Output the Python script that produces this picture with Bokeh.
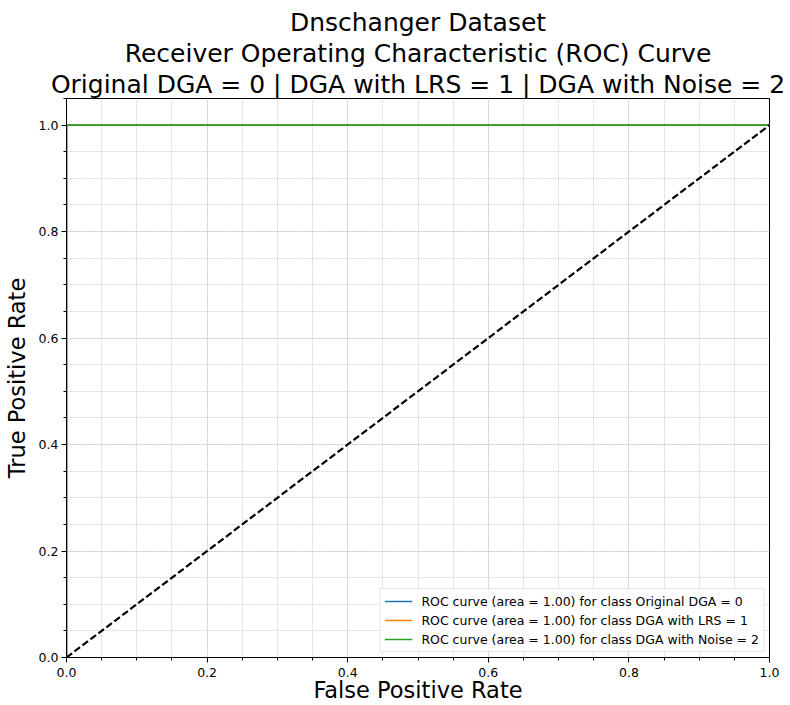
from bokeh.plotting import figure
from bokeh.models import (Title, FixedTicker, PrintfTickFormatter, Range1d,
                          Legend, LegendItem)
from bokeh.embed import file_html
from bokeh.resources import INLINE

# ---- data ----
title_lines = ["Dnschanger Dataset",
               "Receiver Operating Characteristic (ROC) Curve",
               "Original DGA = 0 | DGA with LRS = 1 | DGA with Noise = 2"]
class_names = ["Original DGA = 0", "DGA with LRS = 1", "DGA with Noise = 2"]
roc_auc = [1.00, 1.00, 1.00]
fpr_class0 = [0.0, 0.0, 1.0]
tpr_class0 = [0.0, 1.0, 1.0]
fpr_class1 = [0.0, 0.0, 1.0]
tpr_class1 = [0.0, 1.0, 1.0]
fpr_class2 = [0.0, 0.0, 1.0]
tpr_class2 = [0.0, 1.0, 1.0]
diag_x = [0.0, 1.0]
diag_y = [0.0, 1.0]
major_ticks = [0.0, 0.2, 0.4, 0.6, 0.8, 1.0]
minor_ticks_x = [round(i * 0.05, 2) for i in range(0, 21)]
minor_ticks_y = [round(i * 0.05, 2) for i in range(0, 22)]
colors = ["#1f77b4", "#ff7f0e", "#2ca02c"]

FONT = "DejaVu Sans"

p = figure(width=790, height=705, output_backend="svg", toolbar_location=None,
           x_range=Range1d(0, 1.0), y_range=Range1d(0, 1.05),
           min_border_left=65, min_border_right=21, min_border_bottom=47,
           min_border_top=98)
p.title = None

for line in reversed(title_lines):
    p.add_layout(Title(text=line, align="center", text_font=FONT,
                       text_font_size="25px", text_font_style="normal",
                       text_color="black", standoff=0), "above")

p.background_fill_color = "white"
p.border_fill_color = "white"
p.outline_line_color = "black"
p.outline_line_width = 1
p.outline_line_alpha = 1

for ax, minor in ((p.xaxis[0], minor_ticks_x), (p.yaxis[0], minor_ticks_y)):
    ax.ticker = FixedTicker(ticks=major_ticks, minor_ticks=minor)
    ax.formatter = PrintfTickFormatter(format="%.1f")
    ax.major_label_text_font = FONT
    ax.major_label_text_font_size = "12.5px"
    ax.major_label_text_color = "black"
    ax.axis_label_text_font = FONT
    ax.axis_label_text_font_size = "22.5px"
    ax.axis_label_text_font_style = "normal"
    ax.axis_label_text_color = "black"
    ax.axis_line_color = "black"
    ax.major_tick_line_color = "black"
    ax.minor_tick_line_color = "black"
    ax.major_tick_out = 5
    ax.major_tick_in = 0
    ax.minor_tick_out = 3
    ax.minor_tick_in = 0
    ax.major_label_standoff = 3

p.xaxis.major_label_standoff = 5
p.xaxis.axis_label = "False Positive Rate"
p.yaxis.axis_label = "True Positive Rate"
p.xaxis.axis_label_standoff = -3
p.yaxis.axis_label_standoff = 6

for g in (p.xgrid[0], p.ygrid[0]):
    g.grid_line_color = "#c8c8c8"
    g.grid_line_dash = "2 1"
    g.grid_line_width = 0.7
    g.minor_grid_line_color = "#c8c8c8"
    g.minor_grid_line_dash = "2 1"
    g.minor_grid_line_width = 0.7
p.xgrid[0].ticker = FixedTicker(ticks=major_ticks, minor_ticks=minor_ticks_x)
p.ygrid[0].ticker = FixedTicker(ticks=major_ticks, minor_ticks=minor_ticks_y)

fprs = [fpr_class0, fpr_class1, fpr_class2]
tprs = [tpr_class0, tpr_class1, tpr_class2]
items = []
for i in range(3):
    r = p.line(fprs[i], tprs[i], line_color=colors[i], line_width=1.6)
    items.append(LegendItem(
        label=f"ROC curve (area = {roc_auc[i]:.2f}) for class {class_names[i]}",
        renderers=[r]))

p.line(diag_x, diag_y, line_color="black", line_width=2.2, line_dash="7 3")

legend = Legend(items=items, location="bottom_right",
                label_text_font=FONT, label_text_font_size="12.5px",
                label_text_color="black",
                glyph_width=28, glyph_height=16, label_standoff=9,
                spacing=3, padding=4, margin=5,
                border_line_color="#cccccc", border_line_width=1,
                background_fill_color="white", background_fill_alpha=0.8)
p.add_layout(legend, "center")

open("out.html", "w").write(file_html(p, INLINE))
